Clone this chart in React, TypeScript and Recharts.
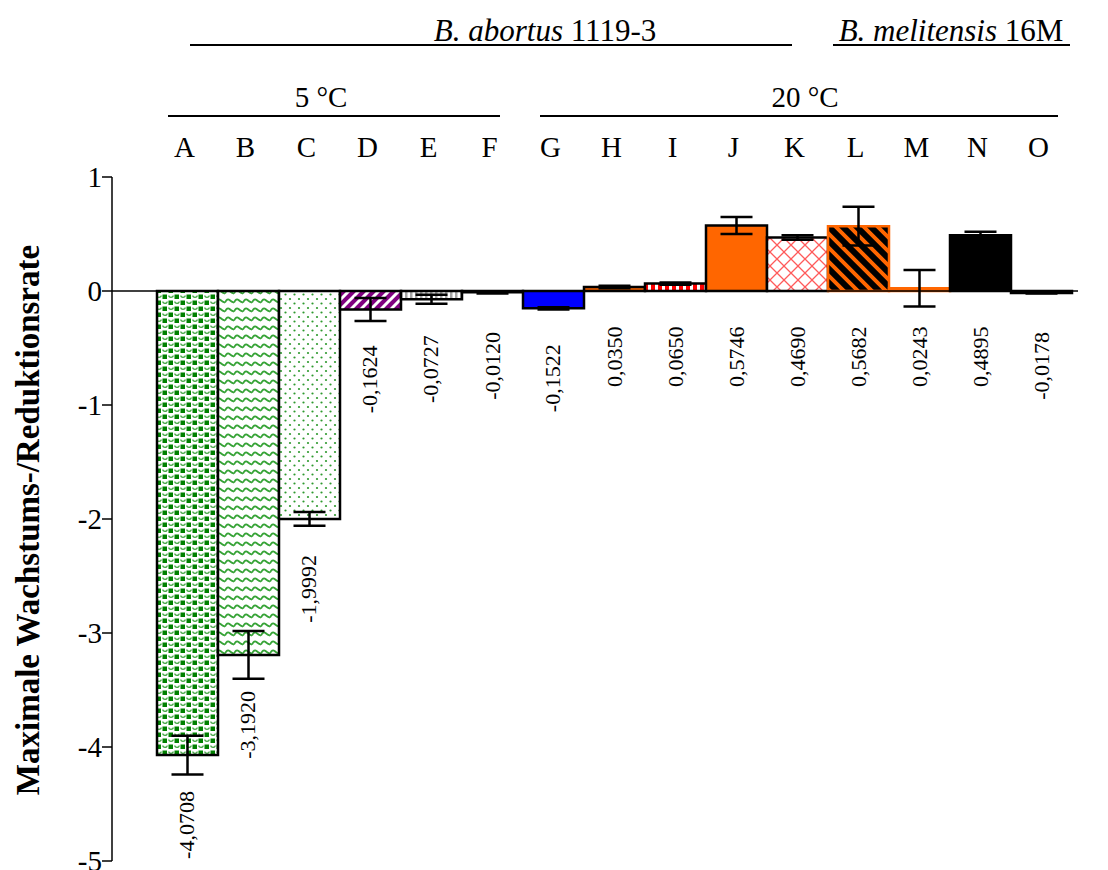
import { BarChart, Bar, XAxis, YAxis, Cell, ErrorBar, LabelList, ReferenceLine } from "recharts";

const categories = ["A", "B", "C", "D", "E", "F", "G", "H", "I", "J", "K", "L", "M", "N", "O"];
const rates = [-4.0708, -3.192, -1.9992, -0.1624, -0.0727, -0.012, -0.1522, 0.035, 0.065, 0.5746, 0.469, 0.5682, 0.0243, 0.4895, -0.0178];
const errors = [0.17, 0.21, 0.06, 0.1, 0.04, 0.01, 0.01, 0.01, 0.01, 0.075, 0.02, 0.17, 0.16, 0.03, 0.005];
const yTicks = [-5, -4, -3, -2, -1, 0, 1];

const FILLS = [
  "url(#patA)", "url(#patB)", "url(#patC)", "url(#patD)", "url(#patE)", "#ffffff",
  "#0000ff", "#ff6600", "url(#patI)", "#ff6600", "url(#patK)", "url(#patL)",
  "#ff6600", "#000000", "#000000",
];
const STROKES = [
  "#000", "#000", "#000", "#000", "#000", "#000", "#000", "#000", "#000",
  "#000", "#000", "#ff6600", "#ff6600", "#000", "#000",
];

const data = categories.map((cat, i) => ({ cat, rate: rates[i], err: errors[i] }));

const FONT = "'Liberation Serif', 'Times New Roman', serif";

const fmt = (v: number) => v.toFixed(4).replace(".", ",");

function ValueLabel(props: any) {
  const { x, y, width, height, value } = props;
  const cx = x + width / 2;
  const top = Math.min(y, y + height);
  const bottom = Math.max(y, y + height);
  if (value >= 0) {
    const sy = bottom + 96;
    return (
      <text x={cx + 7} y={sy} transform={`rotate(-90 ${cx + 7} ${sy})`} textAnchor="start"
        fontFamily={FONT} fontSize={22} fill="#000">{fmt(value)}</text>
    );
  }
  const ty = Math.max(top + 41, bottom + 36);
  return (
    <text x={cx + 7} y={ty} transform={`rotate(-90 ${cx + 7} ${ty})`} textAnchor="end"
      fontFamily={FONT} fontSize={22} fill="#000">{fmt(value)}</text>
  );
}

function LetterTick(props: any) {
  const { x, payload } = props;
  return (
    <text x={x - 3} y={157} textAnchor="middle" fontFamily={FONT} fontSize={29} fill="#000">
      {payload.value}
    </text>
  );
}

export default function App() {
  return (
    <div style={{ position: "absolute", left: 0, top: 0, width: 1108, height: 870, background: "#fff" }}>
      <BarChart width={1108} height={870} data={data} barCategoryGap={0}
        margin={{ top: 137, right: 30, bottom: 9, left: 52 }}>
        <XAxis dataKey="cat" orientation="top" height={40} axisLine={false} tickLine={false}
          padding={{ left: 45, right: 6 }} tick={<LetterTick />} interval={0} />
        <YAxis domain={[-5, 1]} ticks={yTicks} width={60} interval={0}
          axisLine={{ stroke: "#000", strokeWidth: 1.5 }}
          tickLine={{ stroke: "#000", strokeWidth: 1.5 }} tickSize={10} tickMargin={1}
          tick={{ fontFamily: FONT, fontSize: 29, fill: "#000", dx: 1 }} />
        <ReferenceLine y={0} stroke="#000" strokeWidth={1.5} />
        <Bar dataKey="rate" isAnimationActive={false}>
          {data.map((d, i) => (
            <Cell key={d.cat} fill={FILLS[i]} stroke={STROKES[i]} strokeWidth={2.5} />
          ))}
          <ErrorBar dataKey="err" width={16} strokeWidth={2.5} stroke="#000" direction="y" />
          <LabelList dataKey="rate" content={<ValueLabel />} />
        </Bar>
      </BarChart>
      <svg width={1108} height={870} style={{ position: "absolute", left: 0, top: 0, pointerEvents: "none" }}>
        <defs>
          <pattern id="patA" width={12} height={12} patternUnits="userSpaceOnUse">
            <rect width={12} height={12} fill="#fff" />
            <rect x={0.5} y={0.5} width={4.5} height={4.5} fill="#008000" />
            <rect x={6.5} y={6.5} width={4.5} height={4.5} fill="#008000" />
            <path d="M6.8 1.6 a2.2 1.8 0 1 0 4.4 0" stroke="#46a846" strokeWidth={1.3} fill="none" />
            <path d="M0.8 7.6 a2.2 1.8 0 1 0 4.4 0" stroke="#46a846" strokeWidth={1.3} fill="none" />
          </pattern>
          <pattern id="patB" width={9} height={9} patternUnits="userSpaceOnUse">
            <rect width={9} height={9} fill="#fff" />
            <path d="M0 5.5 Q2.25 1 4.5 3 Q6.75 5 9 5.5" stroke="#36a336" strokeWidth={1.8} fill="none" />
          </pattern>
          <pattern id="patC" width={9} height={9} patternUnits="userSpaceOnUse">
            <rect width={9} height={9} fill="#fff" />
            <circle cx={2} cy={2} r={1.1} fill="#2f9a2f" />
            <circle cx={6.5} cy={6.5} r={1.1} fill="#2f9a2f" />
          </pattern>
          <pattern id="patD" width={10} height={10} patternUnits="userSpaceOnUse">
            <rect width={10} height={10} fill="#800080" />
            <path d="M0 10 L10 0 M-5 5 L5 -5 M5 15 L15 5" stroke="#fff" strokeWidth={3} />
          </pattern>
          <pattern id="patE" width={5} height={5} patternUnits="userSpaceOnUse">
            <rect width={5} height={5} fill="#fff" />
            <rect width={2.5} height={5} fill="#a6a6a6" />
          </pattern>
          <pattern id="patI" width={7} height={7} patternUnits="userSpaceOnUse">
            <rect width={7} height={7} fill="#fff" />
            <rect width={4} height={7} fill="#ff0000" />
          </pattern>
          <pattern id="patK" width={14} height={14} patternUnits="userSpaceOnUse">
            <rect width={14} height={14} fill="#fff" />
            <path d="M0 0 L14 14 M14 0 L0 14" stroke="#ff5a5a" strokeWidth={1.3} />
          </pattern>
          <pattern id="patL" width={14} height={14} patternUnits="userSpaceOnUse">
            <rect width={14} height={14} fill="#ff6600" />
            <path d="M0 0 L14 14 M-7 7 L7 21 M7 -7 L21 7" stroke="#000" strokeWidth={6} />
          </pattern>
        </defs>
        <g fontFamily={FONT} fill="#000" fontSize={31}>
          <text x={545} y={41} textAnchor="middle">
            <tspan fontStyle="italic">B. abortus</tspan> 1119-3
          </text>
          <text x={951} y={41} textAnchor="middle">
            <tspan fontStyle="italic">B. melitensis</tspan> 16M
          </text>
          <text x={321} y={107} textAnchor="middle" fontSize={29}>5 °C</text>
          <text x={805} y={107} textAnchor="middle" fontSize={29}>20 °C</text>
          <text x={0} y={0} fontSize={33} fontWeight="bold" textAnchor="middle"
            transform="translate(39 520) rotate(-90)">Maximale Wachstums-/Reduktionsrate</text>
        </g>
        <g stroke="#000" strokeWidth={2}>
          <line x1={190} y1={45} x2={792} y2={45} />
          <line x1={833} y1={45} x2={1070} y2={45} />
          <line x1={168} y1={116} x2={500} y2={116} />
          <line x1={540} y1={116} x2={1058} y2={116} />
        </g>
      </svg>
    </div>
  );
}
